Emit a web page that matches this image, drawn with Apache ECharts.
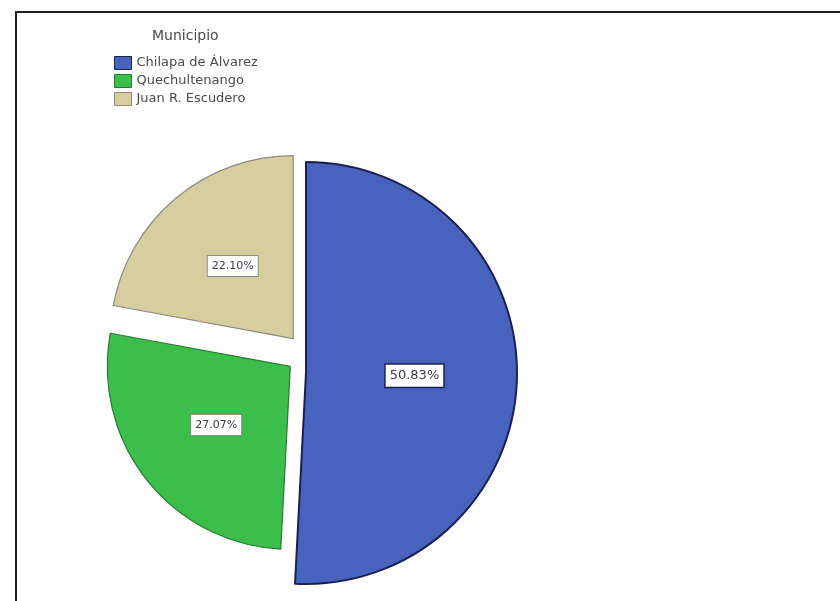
<!DOCTYPE html>
<html>
<head>
<meta charset="utf-8">
<script src="https://cdn.jsdelivr.net/npm/echarts@6/dist/echarts.min.js"></script>
<style>
  html, body { margin: 0; padding: 0; background: #fff; }
  #frame {
    position: absolute; left: 15px; top: 11px; width: 900px; height: 700px;
    border: 2px solid #1e1e1e; box-sizing: border-box;
  }
  #chart { position: absolute; left: 0; top: 0; width: 840px; height: 601px; }
</style>
</head>
<body>
<div id="frame"></div>
<div id="chart"></div>
<script>
// Porcentaje de casos por municipio
const legendTitle = 'Municipio';
const municipios = ['Chilapa de Álvarez', 'Quechultenango', 'Juan R. Escudero'];
const porcentajes = [50.83, 27.07, 22.10];
const colores = ['#4862BE', '#3CBE4B', '#D6CE9E'];
const bordes = ['#1a2050', '#2a7a35', '#8a8a80'];

const FONT = 'DejaVu Sans';
const hidden = 'rgba(0,0,0,0)';

// Builds the slices for one ring; only the indices in `visible` are painted
function slices(visible, labelSizes) {
  return municipios.map((name, i) => {
    const show = visible.includes(i);
    return {
      name: name,
      value: porcentajes[i],
      selected: show && i !== 0,
      itemStyle: show
        ? { color: colores[i], borderColor: bordes[i], borderWidth: i === 0 ? 2 : 1.2 }
        : { color: hidden, borderColor: hidden, borderWidth: 0 },
      label: show
        ? {
            show: true,
            position: 'inside',
            formatter: (p) => p.value.toFixed(2) + '%',
            fontFamily: FONT,
            fontSize: labelSizes[i],
            color: '#3a3a4a',
            backgroundColor: '#ffffff',
            borderColor: i === 0 ? '#1b2155' : '#8c8c8c',
            borderWidth: i === 0 ? 1.5 : 1,
            padding: [5, 4, 4, 4]
          }
        : { show: false }
    };
  });
}

const chart = echarts.init(document.getElementById('chart'), null, { renderer: 'canvas' });

chart.setOption({
  backgroundColor: 'transparent',
  animation: false,
  title: {
    text: legendTitle,
    left: 152,
    top: 29,
    padding: 0,
    textStyle: { fontFamily: FONT, fontSize: 14, fontWeight: 'normal', color: '#4a4a4a' }
  },
  legend: {
    orient: 'vertical',
    left: 114,
    top: 56,
    padding: 0,
    itemWidth: 17,
    itemHeight: 13,
    itemGap: 4,
    selectedMode: false,
    icon: 'rect',
    textStyle: { fontFamily: FONT, fontSize: 13, color: '#4a4a4a' },
    data: municipios.map((name, i) => ({
      name: name,
      itemStyle: { color: colores[i], borderColor: bordes[i], borderWidth: 1 }
    }))
  },
  series: [
    {
      // Chilapa de Álvarez ring
      type: 'pie',
      name: legendTitle,
      center: [306, 373],
      radius: [0, 211],
      startAngle: 90,
      clockwise: true,
      silent: true,
      emphasis: { disabled: true },
      labelLine: { show: false },
      data: slices([0], [13, 11, 11])
    },
    {
      // Quechultenango and Juan R. Escudero, pulled out from the centre
      type: 'pie',
      name: legendTitle,
      center: [306, 354],
      radius: [0, 183],
      startAngle: 90,
      clockwise: true,
      silent: true,
      selectedMode: 'multiple',
      selectedOffset: 20,
      emphasis: { disabled: true },
      labelLine: { show: false },
      data: slices([1, 2], [13, 11, 11])
    }
  ]
});
</script>
</body>
</html>
